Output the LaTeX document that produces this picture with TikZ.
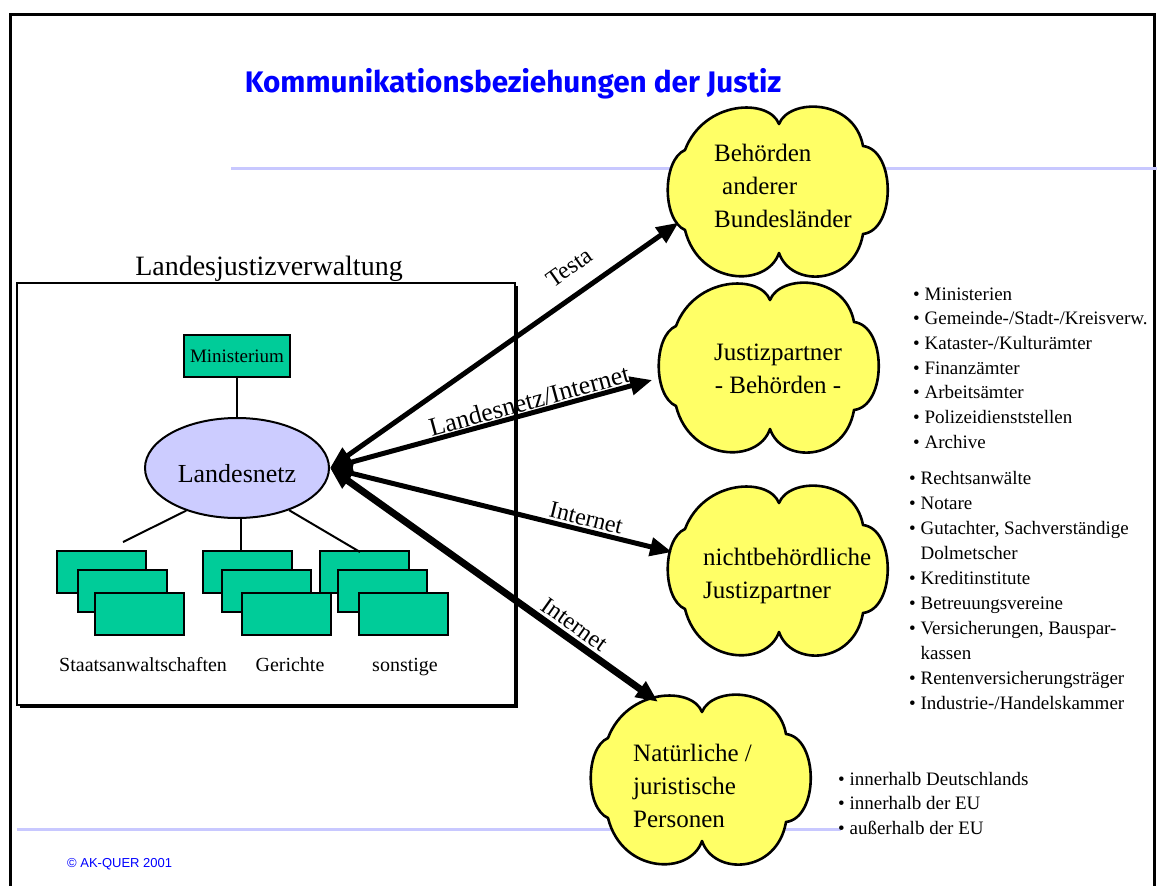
\documentclass[tikz,border=0pt]{standalone}
\usepackage{fontspec}
\setmainfont{Liberation Serif}
\newfontfamily\titlefont{Fira Sans}
\newfontfamily\arialfont{Liberation Sans}
\usetikzlibrary{arrows.meta,shapes.geometric,shadows}
\definecolor{jgreen}{RGB}{0,204,153}
\definecolor{jlav}{RGB}{204,204,255}
\definecolor{jyellow}{RGB}{255,255,102}
\definecolor{jline}{RGB}{200,200,255}
\definecolor{jblue}{RGB}{0,0,255}
\newcommand\cloudshape[2]{%
  \filldraw[cloudsty, shift={(#1,#2)}, yscale=-1]
    (0,66) .. controls (-10,92) and (-75,90) .. (-94,40)
    .. controls (-117,30) and (-117,-30) .. (-94,-40)
    .. controls (-80,-96) and (-12,-98) .. (0,-63)
    .. controls (12,-98) and (75,-96) .. (84,-44)
    .. controls (117,-40) and (117,40) .. (84,44)
    .. controls (75,92) and (10,92) .. (0,66) -- cycle;}
\begin{document}
\begin{tikzpicture}[x=1pt,y=-1pt,
  cloudsty/.style={fill=jyellow, draw=black, line width=2.6pt, line join=round},
  cloudnode/.style={ellipse, minimum width=218pt, minimum height=166pt, inner sep=0pt, draw=none},
  ctext/.style={font=\fontsize{25}{33}\selectfont, inner sep=0pt},
  greenbox/.style={draw=black, fill=jgreen, line width=2pt, minimum width=89pt, minimum height=42pt, inner sep=0pt},
  grplbl/.style={font=\fontsize{20}{24}\selectfont, inner sep=0pt, anchor=base},
  conn/.style={line width=2pt},
  bigarrow/.style={line width=5pt, {Triangle[length=22pt,width=18pt]}-{Triangle[length=22pt,width=18pt]}},
  arlabel/.style={font=\fontsize{24}{24}\selectfont, sloped, inner sep=0pt},
  listtxt/.style={font=\fontsize{19}{24}\selectfont, inner sep=0pt, anchor=base west},
  hline/.style={draw=jline, line width=3pt}
]
\useasboundingbox (0,0) rectangle (1157,886);
\fill[white] (0,0) rectangle (1157,886);
% frame
\draw[line width=3pt] (10,886) -- (10,14) -- (1154,14) -- (1154,886);
% lavender lines
\draw[hline] (231,168) -- (1157,168);
\draw[hline] (17,829) -- (841,829);
% title
\node[anchor=base, inner sep=0pt, text=jblue, font=\titlefont\bfseries\fontsize{29.7}{29.7}\selectfont] (title) at (513,92) {Kommunikationsbeziehungen der Justiz};
% left box
\node[draw=black, line width=2.5pt, fill=white, minimum width=498pt, minimum height=422pt, inner sep=0pt,
  drop shadow={shadow xshift=2.5pt, shadow yshift=-2.5pt, fill=black, opacity=1}] (lbox) at (266,494) {};
\node[anchor=base, inner sep=0pt, font=\fontsize{28}{28}\selectfont] (lbl) at (269,275) {Landesjustizverwaltung};
\node[draw=black, fill=jgreen, line width=2pt, minimum width=106pt, minimum height=42pt, inner sep=0pt, font=\fontsize{19}{19}\selectfont] (mi) at (237,356) {Ministerium};
\node[ellipse, draw=black, fill=jlav, line width=2pt, minimum width=184pt, minimum height=100pt, inner sep=0pt,
  label={[font=\fontsize{26}{26}\selectfont, inner sep=0pt, yshift=-6pt]center:Landesnetz}] (ln) at (237,468) {};
\draw[conn] (mi.south) -- (ln.north);
% green boxes
\node[greenbox] (r1a) at (101,572) {};
\node[greenbox] (r1b) at (122,591) {};
\node[greenbox] (r1c) at (139.5,614) {};
\node[greenbox] (r2a) at (247,572) {};
\node[greenbox] (r2b) at (266.5,591) {};
\node[greenbox] (r2c) at (286.5,614) {};
\node[greenbox] (r3a) at (364,572) {};
\node[greenbox] (r3b) at (382.5,591) {};
\node[greenbox] (r3c) at (403.5,614) {};
\coordinate (e1) at (123,542);
\coordinate (e3) at (360,552);
\draw[conn] (ln.220) -- (e1);
\draw[conn] (ln.275) -- (ln.275 |- r2a.north);
\draw[conn] (ln.321) -- (e3);
\node[grplbl, anchor=base west] (g1) at (59,671) {Staatsanwaltschaften};
\node[grplbl] (g2) at (290,671) {Gerichte};
\node[grplbl] (g3) at (405,671) {sonstige};
% clouds
\cloudshape{779}{190}
\node[cloudnode] (c1) at (779,190) {};
\node[ctext, anchor=base west, align=left] (t1) at (714,227) {Behörden\\\hspace*{8pt}anderer\\Bundesländer};
\cloudshape{770}{366}
\node[cloudnode] (c2) at (770,366) {};
\node[ctext, anchor=base, align=center] (t2) at (778,393) {Justizpartner\\- Behörden -};
\cloudshape{779}{569}
\node[cloudnode] (c3) at (779,569) {};
\node[ctext, anchor=base west, align=left] (t3) at (703,598) {nichtbehördliche\\Justizpartner};
\cloudshape{702}{778}
\node[cloudnode] (c4) at (702,778) {};
\node[ctext, anchor=base west, align=left] (t4) at (633,827) {Natürliche /\\juristische\\Personen};
% arrows
\draw[bigarrow] (ln.east) -- (c1.198) node[arlabel, pos=0.73, above=16pt] {Testa};
\draw[bigarrow, shorten >=10pt] (ln.east) -- (c2.186) node[arlabel, pos=0.61, above=1pt, font=\fontsize{26}{26}\selectfont] {Landesnetz/Internet};
\draw[bigarrow] (ln.east) -- (c3.171) node[arlabel, pos=0.74, above=2pt] {Internet};
\draw[bigarrow, line width=7pt] (ln.east) -- (c4.120) node[arlabel, pos=0.72, above=3pt] {Internet};
% lists
\foreach [count=\i from 0] \t in {{• Ministerien},{• Gemeinde-/Stadt-/Kreisverw.},{• Kataster-/Kulturämter},{• Finanzämter},{• Arbeitsämter},{• Polizeidienststellen},{• Archive}}
  \node[listtxt] (la\i) at (913,{300+24.7*\i}) {\t};
\foreach [count=\i from 0] \t in {{• Rechtsanwälte},{• Notare},{• Gutachter, Sachverständige},{\phantom{• }Dolmetscher},{• Kreditinstitute},{• Betreuungsvereine},{• Versicherungen, Bauspar-},{\phantom{• }kassen},{• Rentenversicherungsträger},{• Industrie-/Handelskammer}}
  \node[listtxt] (lb\i) at (909,{484+25*\i}) {\t};
\foreach [count=\i from 0] \t in {{• innerhalb Deutschlands},{• innerhalb der EU},{• außerhalb der EU}}
  \node[listtxt] (lc\i) at (838,{785+24.7*\i}) {\t};
% copyright
\node[anchor=base west, inner sep=0pt, text=jblue, font=\arialfont\fontsize{13}{13}\selectfont] (copy) at (67,867) {© AK-QUER 2001};
\end{tikzpicture}
\end{document}
